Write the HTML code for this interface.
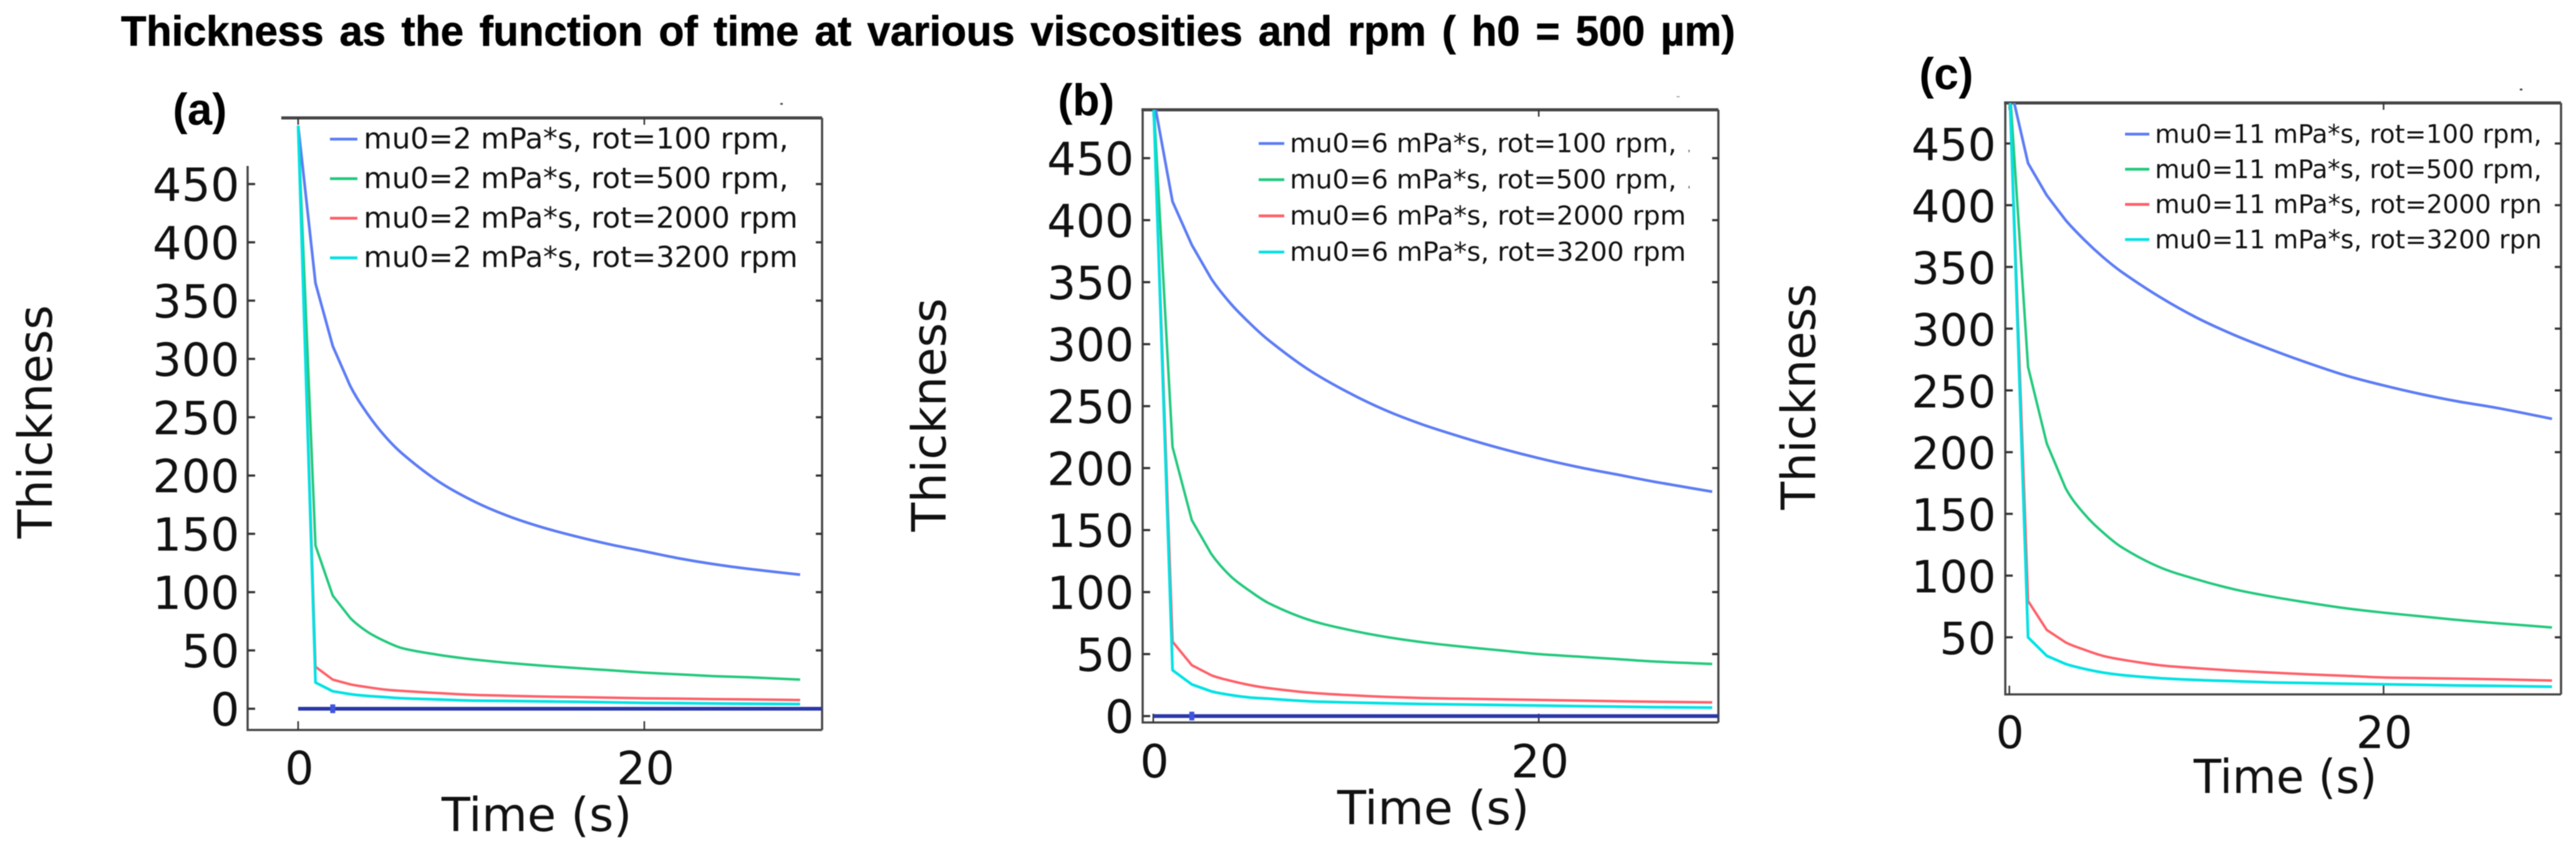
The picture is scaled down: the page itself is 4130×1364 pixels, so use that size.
<!DOCTYPE html>
<html lang="en">
<head>
<meta charset="utf-8">
<title>Thickness as the function of time</title>
<style>
html,body{margin:0;padding:0;background:#fff;width:4130px;height:1364px;overflow:hidden}
svg{display:block;filter:blur(0.8px)}
.sans{font-family:"DejaVu Sans",sans-serif;fill:#111}
.head{font-family:"Liberation Sans",sans-serif;font-weight:700;fill:#000}
</style>
</head>
<body>
<svg id="figure" xmlns="http://www.w3.org/2000/svg" width="4130" height="1364" viewBox="0 0 4130 1364">
  <rect width="4130" height="1364" fill="#fff"/>
  <text class="head" x="194" y="73" font-size="68" stroke="#000" stroke-width="0.8" textLength="2588" lengthAdjust="spacingAndGlyphs" word-spacing="7">Thickness as the function of time at various viscosities and rpm ( h0 = 500 µm)</text>
  <text class="head" x="277" y="200" font-size="71">(a)</text>
  <text class="head" x="1696" y="185" font-size="71">(b)</text>
  <text class="head" x="3077" y="143" font-size="71">(c)</text>
  <rect x="1251" y="165" width="4" height="3" fill="#555"/>
  <rect x="2688" y="154" width="5" height="2" fill="#aaa"/>
  <rect x="4040" y="142" width="4" height="3" fill="#444"/>
  <rect x="2707" y="240" width="2" height="4" fill="#777"/>
  <rect x="2707" y="298" width="2" height="4" fill="#777"/>
</svg>
<script>
// ---- shared sample times (seconds) ----
const times = [0,1,2,3,4,5,6,8,10,12,14,16,18,20,22,24,26,29];
const xTickValues = [0,20];
const yTickLabelsAB = [0,50,100,150,200,250,300,350,400,450];
const yTickLabelsC = [50,100,150,200,250,300,350,400,450];

// ---- panel (a) mu0 = 2 mPa*s ----
const a100 = [500,365,311,277,253,234,219,196,179,166,156,148,141,135,129,124,120,115];
const a500 = [500,140,97,78,66,58,52,46.5,42.5,39.5,37,35,33,31,29.5,28,27,25];
const a2000 = [500,36,25,21,18.5,16.5,15.3,13.5,12,11.2,10.5,10,9.5,9,8.7,8.3,8,7.5];
const a3200 = [500,22.5,15,12.5,11,10,9,8,7,6.7,6.3,6,5.5,5,4.8,4.5,4.3,4];
const aBaseline = [0,0];
const aLegend = ["mu0=2 mPa*s, rot=100 rpm,","mu0=2 mPa*s, rot=500 rpm,","mu0=2 mPa*s, rot=2000 rpm","mu0=2 mPa*s, rot=3200 rpm"];

// ---- panel (b) mu0 = 6 mPa*s ----
const b100 = [500,415,380,353,333,317,303,280,262,247,235,225,216,208,201,195,189,181];
const b500 = [500,217,158,131,113,101,91,78,70,64,59.5,56,53,50,48,46,44,42];
const b2000 = [500,60,41,33,28.5,25,22.5,19,17,15.5,14.5,14,13.5,13,12.5,12,11.5,11];
const b3200 = [500,37,25.5,20,17,15,14,12,11,10.3,9.7,9.3,8.9,8.5,8,7.6,7.2,6.8];
const bBaseline = [0,0];
const bLegend = ["mu0=6 mPa*s, rot=100 rpm,","mu0=6 mPa*s, rot=500 rpm,","mu0=6 mPa*s, rot=2000 rpm","mu0=6 mPa*s, rot=3200 rpm"];

// ---- panel (c) mu0 = 11 mPa*s ----
const c100 = [500,434,408,388,372,358,346,326,309,295,283,272,262,254,247,241,236,227];
const c500 = [500,269,207,171,150,135,123,107,97,89,83,78,73.5,70,67,64,61.5,58];
const c2000 = [500,79.5,56,46,40,35,32,27.5,25,23,21.5,20,18.8,17.5,17,16.5,16,15];
const c3200 = [500,50,35,28.5,24.5,21.5,19.5,17,15.5,14.5,13.5,13,12.5,12,11.5,11,10.7,10];
const cLegend = ["mu0=11 mPa*s, rot=100 rpm,","mu0=11 mPa*s, rot=500 rpm,","mu0=11 mPa*s, rot=2000 rpn","mu0=11 mPa*s, rot=3200 rpn"];

const NS = "http://www.w3.org/2000/svg";
const root = document.getElementById("figure");
const AXIS = "#454545";
const seriesColors = ["#5c7cf5","#22c97c","#ff5f68","#00e2e4"];
const seriesNames = ["rot-100","rot-500","rot-2000","rot-3200"];

function svgEl(tag, attrs, parent){
  const el = document.createElementNS(NS, tag);
  for (const k in attrs) el.setAttribute(k, attrs[k]);
  parent.appendChild(el);
  return el;
}

// straight 1 s segments early on, smooth through the sparser samples afterwards
function curvePath(xs, ys){
  let d = "M" + xs[0].toFixed(1) + " " + ys[0].toFixed(1);
  for (let i = 1; i < xs.length; i++){
    if (i <= 3){
      d += "L" + xs[i].toFixed(1) + " " + ys[i].toFixed(1);
      continue;
    }
    const h = xs[i] - xs[i - 1];
    const m0 = (ys[i] - ys[i - 2]) / (xs[i] - xs[i - 2]);
    const m1 = i + 1 < xs.length ? (ys[i + 1] - ys[i - 1]) / (xs[i + 1] - xs[i - 1]) : (ys[i] - ys[i - 1]) / h;
    d += "C" + (xs[i - 1] + h / 3).toFixed(1) + " " + (ys[i - 1] + m0 * h / 3).toFixed(1) + " " +
         (xs[i] - h / 3).toFixed(1) + " " + (ys[i] - m1 * h / 3).toFixed(1) + " " +
         xs[i].toFixed(1) + " " + ys[i].toFixed(1);
  }
  return d;
}

function drawPanel(p){
  const sx = t => p.x0 + t * p.xPerSec;
  const sy = v => p.y0 - v * p.yPerUnit;

  const g = svgEl("g", {}, root);
  
  

  const clip = svgEl("clipPath", {id:"clip-" + p.id}, g);
  svgEl("rect", {x:p.left, y:p.top, width:p.right - p.left, height:p.bottom - p.top}, clip);

  // frame
  const frame = svgEl("path", {
    d:"M" + p.topStart + " " + p.top + "H" + p.right,
    stroke:AXIS, "stroke-width":5, fill:"none"
  }, g);
  
  

  const spine = svgEl("path", {
    d:"M" + p.left + " " + p.leftTop + "V" + p.bottom + "H" + p.right + "M" + p.right + " " + p.top + "V" + p.bottom,
    stroke:AXIS, "stroke-width":3.5, fill:"none"
  }, g);
  
  

  // y ticks
  p.yTicks.forEach(v => {
    const tk = svgEl("path", {
      d:"M" + p.left + " " + sy(v) + "h12M" + (p.right - 10) + " " + sy(v) + "h10",
      stroke:"#333", "stroke-width":3.5, fill:"none"
    }, g);
    
    

    const lb = svgEl("text", {
      class:"sans", x:p.yLabelRight, y:sy(v) + 27,
      "font-size":p.tickFont, "text-anchor":"end"
    }, g);
    
    
    lb.textContent = String(v);
  });

  // x ticks
  xTickValues.forEach(v => {
    const tk = svgEl("path", {
      d:"M" + sx(v) + " " + p.top + "v11M" + sx(v) + " " + (p.bottom - 14) + "v14",
      stroke:"#333", "stroke-width":2.5, fill:"none"
    }, g);
    
    

    const lb = svgEl("text", {
      class:"sans", x:sx(v) + p.xLabelShift, y:p.xLabelBase,
      "font-size":p.tickFont, "text-anchor":"middle"
    }, g);
    
    
    lb.textContent = String(v);
  });

  // series
  p.series.forEach((vals, i) => {
    const xs = vals.map((v, j) => sx(times[j]));
    const ys = vals.map(v => sy(v));
    const line = svgEl("path", {
      d:curvePath(xs, ys), fill:"none", stroke:seriesColors[i],
      "stroke-width":i === 0 || i === 3 ? 4.4 : 4,
      "stroke-linejoin":"round",
      "clip-path":"url(#clip-" + p.id + ")"
    }, g);
    
    
  });

  // dark baseline series
  if (p.baseline){
    const bx = svgEl("line", {
      x1:sx(0), x2:p.right, y1:sy(p.baseline[0]), y2:sy(p.baseline[1]),
      stroke:"#2a37a8", "stroke-width":6
    }, g);
    
    

    const mk = svgEl("rect", {
      x:sx(times[2]) - 4, y:sy(p.baseline[0]) - 7, width:8, height:14, fill:"#3f55e0"
    }, g);
    
    
  }

  // legend
  p.legend.forEach((label, i) => {
    const cy = p.legY + i * p.legStep;
    const sw = svgEl("line", {
      x1:p.legLine0, x2:p.legLine1, y1:cy, y2:cy,
      stroke:seriesColors[i], "stroke-width":4.5
    }, g);
    
    

    const tx = svgEl("text", {
      class:"sans", x:p.legText, y:cy + p.legBase,
      "font-size":p.legFont, textLength:p.legWidths[i], lengthAdjust:"spacingAndGlyphs"
    }, g);
    
    
    tx.textContent = label;
  });

  // axis titles
  const xt = svgEl("text", {
    class:"sans", x:p.xTitle[0], y:p.xTitle[2], "font-size":75,
    textLength:p.xTitle[1] - p.xTitle[0], lengthAdjust:"spacingAndGlyphs"
  }, g);
  
  
  xt.textContent = "Time (s)";

  const yt = svgEl("text", {
    class:"sans", x:0, y:0, "font-size":76,
    transform:"translate(" + p.yTitle[0] + " " + p.yTitle[1] + ") rotate(-90)",
    textLength:p.yTitle[1] - p.yTitle[2], lengthAdjust:"spacingAndGlyphs"
  }, g);
  
  
  yt.textContent = "Thickness";
}

drawPanel({
  id:"a", x0:478, xPerSec:27.75, y0:1136, yPerUnit:1.869,
  left:397, leftTop:266, topStart:451, right:1318, top:189, bottom:1170,
  yTicks:yTickLabelsAB, yLabelRight:384, tickFont:73, xLabelShift:2, xLabelBase:1257,
  series:[a100,a500,a2000,a3200], baseline:aBaseline, legend:aLegend,
  legY:223, legStep:63.4, legLine0:529, legLine1:573, legText:583, legBase:15, legFont:46,
  legWidths:[681,681,696,696],
  xTitle:[708,1013,1332], yTitle:[83,863,489]
});
drawPanel({
  id:"b", x0:1849, xPerSec:30.9, y0:1147.7, yPerUnit:1.987,
  left:1832, leftTop:176, topStart:1830, right:2755, top:176, bottom:1158,
  yTicks:yTickLabelsAB, yLabelRight:1818, tickFont:73, xLabelShift:2, xLabelBase:1246,
  series:[b100,b500,b2000,b3200], baseline:bBaseline, legend:bLegend,
  legY:230, legStep:58, legLine0:2018, legLine1:2059, legText:2068, legBase:14, legFont:42,
  legWidths:[620,620,635,635],
  xTitle:[2144,2452,1321], yTitle:[1516,852,478]
});
drawPanel({
  id:"c", x0:3221.5, xPerSec:30, y0:1120.5, yPerUnit:1.979,
  left:3215, leftTop:165, topStart:3213, right:4106, top:165, bottom:1113,
  yTicks:yTickLabelsC, yLabelRight:3200, tickFont:71, xLabelShift:1, xLabelBase:1199,
  series:[c100,c500,c2000,c3200], baseline:null, legend:cLegend,
  legY:215, legStep:56.3, legLine0:3407, legLine1:3446, legText:3455, legBase:14, legFont:41,
  legWidths:[620,620,620,620],
  xTitle:[3517,3811,1271], yTitle:[2910,817,455]
});
</script>
</body>
</html>
